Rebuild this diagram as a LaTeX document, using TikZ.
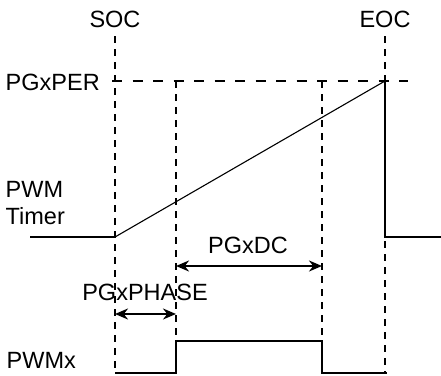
\documentclass[tikz,border=0pt]{standalone}
\usepackage{fontspec}
\setmainfont{Liberation Sans}
\usetikzlibrary{arrows.meta}
\begin{document}
\begin{tikzpicture}[x=1pt,y=-1pt,
  lbl/.style={inner sep=0pt, font=\fontsize{23.5}{28}\selectfont},
  vdash/.style={line width=2.3pt, dash pattern=on 7pt off 6pt},
  hdash/.style={line width=2.3pt, dash pattern=on 10pt off 10.5pt},
  sig/.style={line width=2.3pt},
  ramp/.style={line width=1.1pt},
  dimline/.style={line width=2.3pt, {Stealth[length=13pt,width=11pt]}-{Stealth[length=13pt,width=11pt]}}
]
\useasboundingbox (0,0) rectangle (441,375);
% key points
\coordinate (socT) at (115,36);
\coordinate (socB) at (115,373);
\coordinate (perL) at (112,81);
\coordinate (perR) at (408,81);
\coordinate (phT) at (176,81);
\coordinate (phB) at (176,341);
\coordinate (dcT) at (322,81);
\coordinate (dcB) at (322,341);
\coordinate (eocT) at (385,36);
\coordinate (eocP) at (385,81);
\coordinate (eocR) at (385,237);
\coordinate (eocD) at (385,241);
\coordinate (eocB) at (385,373);
\coordinate (tmL) at (30,237);
\coordinate (tmS) at (115,237);
\coordinate (tmR) at (441,237);
\coordinate (pwL) at (115,373);
\coordinate (pwUp) at (176,373);
\coordinate (pwHi1) at (176,341);
\coordinate (pwHi2) at (322,341);
\coordinate (pwDn) at (322,373);
\coordinate (pwR) at (387,373);
\coordinate (dcA) at (176,266);
\coordinate (dcZ) at (322,266);
\coordinate (phA) at (115,314);
\coordinate (phZ) at (176,314);
% labels
\node[lbl, anchor=base] (soc) at (115,27) {SOC};
\node[lbl, anchor=base] (eoc) at (385,27) {EOC};
\node[lbl, anchor=base west] (per) at (5.5,90.5) {PGxPER};
\node[lbl, anchor=base west] (pwm) at (5.5,197.5) {PWM};
\node[lbl, anchor=base west] (timer) at (5.5,224) {Timer};
\node[lbl, anchor=base west] (pwmx) at (6.5,368.5) {PWMx};
\node[lbl, anchor=base] (dc) at (248,253.5) {PGxDC};
\node[lbl, anchor=base] (phase) at (145,300.5) {PGxPHASE};
% dashed guides
\draw[vdash] (socT) -- (socB);
\draw[hdash] (perL) -- (perR);
\draw[vdash] (phT) -- (phB);
\draw[vdash] (dcT) -- (dcB);
\draw[vdash] (eocT) -- (eocP);
\draw[vdash] (eocD) -- (eocB);
% timer
\draw[sig] (tmL) -- (tmS);
\draw[ramp] (tmS) -- (eocP);
\draw[sig] (eocP) -- (eocR) -- (tmR);
% pwm output
\draw[sig] (pwL) -- (pwUp) -- (pwHi1) -- (pwHi2) -- (pwDn) -- (pwR);
% dimension arrows
\draw[dimline] (dcA) -- (dcZ);
\draw[dimline] (phA) -- (phZ);
\end{tikzpicture}
\end{document}
